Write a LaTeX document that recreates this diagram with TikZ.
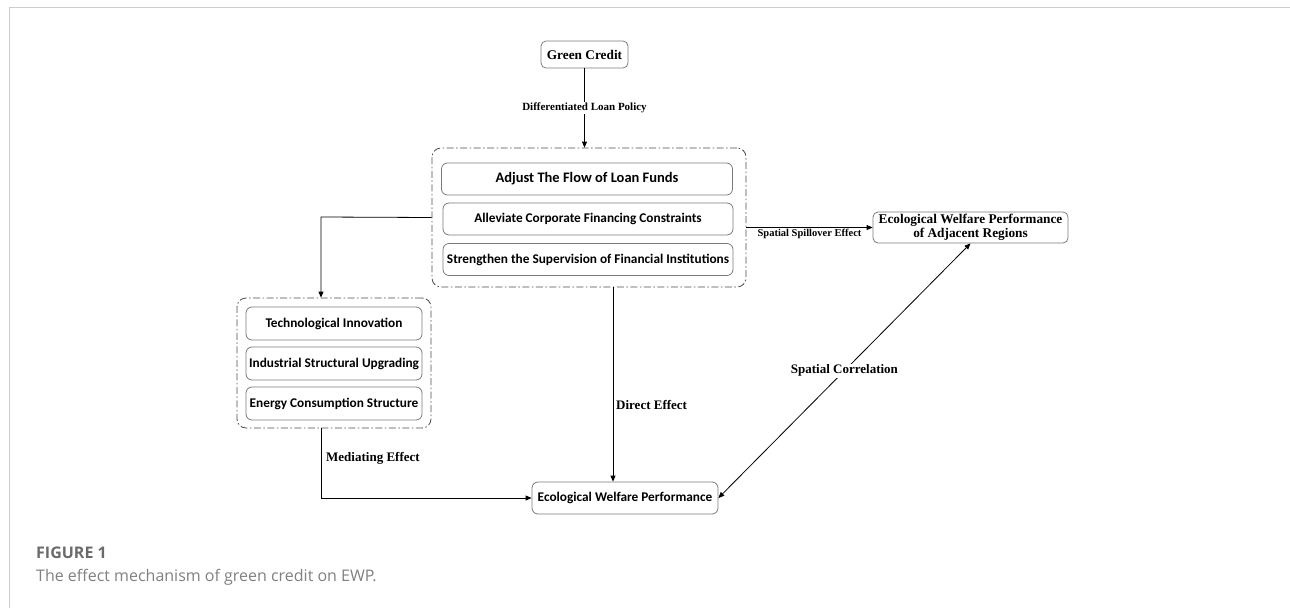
\documentclass[tikz,border=0pt]{standalone}
\usepackage{fontspec}
\setmainfont{Liberation Serif}
\newfontfamily\boxfont{Carlito}
\newfontfamily\capfont{Open Sans}
\usetikzlibrary{arrows.meta}
\definecolor{framegray}{HTML}{CCCCCC}
\definecolor{boxgray}{HTML}{7A7A7A}
\definecolor{capgray}{HTML}{6A6A6A}
\tikzset{
	arr/.style={-{Triangle[length=6pt,width=5pt]},line width=0.8pt},
	twoarr/.style={{Triangle[length=6pt,width=5pt]}-{Triangle[length=6pt,width=5pt]},line width=0.8pt},
	serifbox/.style={draw=boxgray,line width=0.8pt,rounded corners=5pt,align=center,inner sep=0pt,font=\fontsize{13.3}{14}\selectfont\bfseries},
	itembox/.style={draw=boxgray,line width=0.8pt,rounded corners=6pt,inner sep=0pt,minimum height=32pt,font=\boxfont\fontsize{13.3}{15}\selectfont\bfseries},
	groupbox/.style={draw=black!70,line width=0.8pt,rounded corners=9pt,inner sep=0pt,dash pattern=on 7pt off 2.5pt on 1.5pt off 2.5pt},
	lbl/.style={font=\fontsize{13}{15}\selectfont\bfseries,inner sep=1pt}
}
\begin{document}
\begin{tikzpicture}[x=1pt,y=-1pt]
	\useasboundingbox (0,0) rectangle (1290,608);
	% page frame
	\draw[framegray,line width=1.5pt] (9.5,608) -- (9.5,7.5) -- (1290,7.5);
	% nodes
	\node[serifbox,minimum width=87pt,minimum height=27pt] (gc) at (584.5,54.5) {Green Credit};
	\node[groupbox,minimum width=314pt,minimum height=139pt] (mech) at (589,217.5) {};
	\node[itembox,minimum width=291pt,font=\boxfont\fontsize{14.5}{16}\selectfont\bfseries] (flow) at (587,179) {Adjust The Flow of Loan Funds};
	\node[itembox,minimum width=290pt] (ease) at (588,219) {Alleviate Corporate Financing Constraints};
	\node[itembox,minimum width=290pt] (watch) at (588,259.5) {Strengthen the Supervision of Financial Institutions};
	\node[groupbox,minimum width=194pt,minimum height=130pt] (chan) at (334,363) {};
	\node[itembox,minimum width=176pt,minimum height=33pt] (tech) at (334,323.5) {Technological Innovation};
	\node[itembox,minimum width=176pt,minimum height=33pt] (indus) at (334,363.5) {Industrial Structural Upgrading};
	\node[itembox,minimum width=176pt,minimum height=33pt] (energy) at (334,403.5) {Energy Consumption Structure};
	\node[itembox,minimum width=186pt] (ewp) at (625,498) {Ecological Welfare Performance};
	\node[serifbox,minimum width=195pt,minimum height=31pt] (adj) at (970.5,227.5) {Ecological Welfare Performance\\of Adjacent Regions};
	\coordinate (bend) at (321,217);
	% connectors
	\draw[arr] (gc) -- node[lbl,fill=white,font=\fontsize{11}{13}\selectfont\bfseries] {Differentiated Loan Policy} (gc|-mech.north);
	\draw[arr] (adj.west-|mech.east) -- node[lbl,below,font=\fontsize{10.5}{12}\selectfont\bfseries] {Spatial Spillover Effect} (adj.west);
	\draw[arr] (mech.west) -- (bend) -- (bend|-chan.north);
	\draw[arr] (bend|-chan.south) -- (bend|-ewp.west) -- (ewp.west);
	\node[lbl,anchor=west] (medlbl) at (325,458) {Mediating Effect};
	\draw[arr] ([xshift=24pt]mech.south) -- ([xshift=24pt]mech.south|-ewp.north);
	\node[lbl,anchor=west] (dirlbl) at (615,405) {Direct Effect};
	\draw[twoarr] (ewp.east) -- node[lbl,fill=white] {Spatial Correlation} (adj.south);
	% caption
	\node[anchor=base west,inner sep=0pt,text=capgray,font=\capfont\fontsize{16}{18}\selectfont\bfseries] (fig) at (36,558) {FIGURE 1};
	\node[anchor=base west,inner sep=0pt,text=capgray!85,font=\capfont\fontsize{16}{18}\selectfont] (cap) at (36,581) {The effect mechanism of green credit on EWP.};
\end{tikzpicture}
\end{document}
